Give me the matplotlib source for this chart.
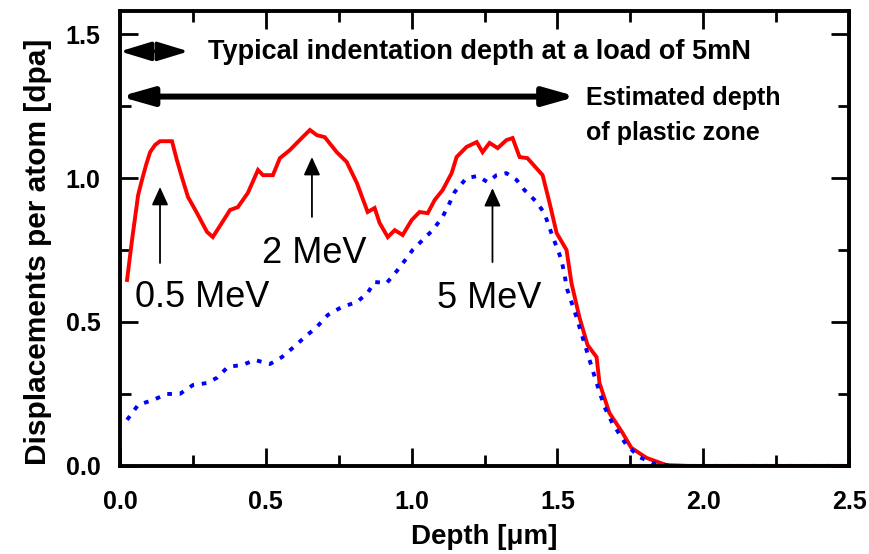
import numpy as np
import matplotlib
matplotlib.use("Agg")
import matplotlib.pyplot as plt
from matplotlib.ticker import MultipleLocator

plt.rcParams['font.family'] = ['Liberation Sans', 'DejaVu Sans']

# Damage profile, summed over all ion energies (solid red)
depth_total = [0.024, 0.041, 0.062, 0.075, 0.089, 0.103, 0.120, 0.137, 0.178, 0.195,
               0.212, 0.233, 0.264, 0.298, 0.318, 0.349, 0.377, 0.404, 0.438, 0.473,
               0.490, 0.524, 0.548, 0.582, 0.623, 0.651, 0.675, 0.702, 0.743, 0.777,
               0.812, 0.849, 0.873, 0.890, 0.918, 0.942, 0.969, 1.000, 1.027, 1.055,
               1.079, 1.106, 1.137, 1.154, 1.188, 1.223, 1.243, 1.267, 1.295, 1.325,
               1.346, 1.370, 1.397, 1.449, 1.473, 1.497, 1.531, 1.548, 1.575, 1.603,
               1.634, 1.644, 1.678, 1.723, 1.753, 1.805, 1.873, 1.950, 2.500]
dpa_total = [0.646, 0.785, 0.941, 0.993, 1.045, 1.090, 1.115, 1.128, 1.128, 1.062,
             1.003, 0.934, 0.878, 0.813, 0.795, 0.844, 0.889, 0.899, 0.948, 1.028,
             1.010, 1.010, 1.069, 1.097, 1.139, 1.167, 1.149, 1.142, 1.090, 1.056,
             0.983, 0.882, 0.896, 0.844, 0.795, 0.819, 0.802, 0.854, 0.882, 0.878,
             0.924, 0.958, 1.017, 1.073, 1.108, 1.125, 1.090, 1.122, 1.104, 1.132,
             1.139, 1.073, 1.069, 1.010, 0.913, 0.809, 0.750, 0.635, 0.517, 0.420,
             0.378, 0.288, 0.184, 0.115, 0.063, 0.028, 0.003, 0.000, 0.000]

# Damage profile for the 5 MeV irradiation alone (dotted blue)
depth_5mev = [0.024, 0.062, 0.113, 0.161, 0.205, 0.250, 0.298, 0.332, 0.370, 0.421,
              0.462, 0.514, 0.555, 0.592, 0.634, 0.675, 0.712, 0.760, 0.812, 0.849,
              0.873, 0.914, 0.949, 0.983, 1.003, 1.038, 1.072, 1.106, 1.130, 1.147,
              1.188, 1.226, 1.260, 1.291, 1.325, 1.360, 1.387, 1.428, 1.455, 1.479,
              1.514, 1.534, 1.565, 1.592, 1.610, 1.634, 1.661, 1.688, 1.736, 1.781,
              1.825, 1.894, 2.500]
dpa_5mev = [0.160, 0.212, 0.229, 0.250, 0.250, 0.281, 0.288, 0.306, 0.344, 0.351,
            0.368, 0.354, 0.378, 0.410, 0.448, 0.483, 0.524, 0.552, 0.569, 0.601,
            0.639, 0.635, 0.677, 0.722, 0.750, 0.785, 0.819, 0.865, 0.913, 0.951,
            1.000, 1.007, 0.986, 1.010, 1.017, 0.993, 0.958, 0.917, 0.878, 0.809,
            0.715, 0.611, 0.517, 0.427, 0.368, 0.288, 0.205, 0.149, 0.073, 0.031,
            0.010, 0.000, 0.000]

xticks = [0.0, 0.5, 1.0, 1.5, 2.0, 2.5]
yticks = [0.0, 0.5, 1.0, 1.5]

fig = plt.figure(figsize=(8.7, 5.54), dpi=100)
ax = fig.add_axes([0.138, 0.159, 0.838, 0.821])

ax.plot(depth_total, dpa_total, color='#ff0000', lw=2.8, solid_joinstyle='miter')
ax.plot(depth_5mev, dpa_5mev, color='#0000ff', lw=2.8,
        linestyle=(0, (1.2, 2.0)), dash_capstyle='butt')

ax.set_xlim(0, 2.5)
ax.set_ylim(0, 1.58)
ax.set_xticks(xticks)
ax.set_yticks(yticks)
ax.set_xticklabels([f"{v:.1f}" for v in xticks])
ax.set_yticklabels([f"{v:.1f}" for v in yticks])
ax.xaxis.set_minor_locator(MultipleLocator(0.25))
ax.yaxis.set_minor_locator(MultipleLocator(0.25))
ax.tick_params(which='both', direction='in', top=True, right=True, width=2.0)
ax.tick_params(which='major', length=13)
ax.tick_params(which='minor', length=8)
ax.tick_params(axis='x', which='major', pad=17, labelsize=18)
ax.tick_params(axis='y', which='major', pad=14, labelsize=18)
for lab in ax.get_xticklabels() + ax.get_yticklabels():
    lab.set_fontweight('bold')
for sp in ax.spines.values():
    sp.set_linewidth(2.8)

ax.set_xlabel('Depth [μm]', fontsize=20, fontweight='bold')
ax.set_ylabel('Displacements per atom [dpa]', fontsize=21.5, fontweight='bold')
ax.xaxis.set_label_coords(0.5, -0.128)
ax.yaxis.set_label_coords(-0.093, 0.47)

# indentation depth and plastic zone markers
ax.annotate('', xy=(0.0, 1.44), xytext=(0.235, 1.44),
            arrowprops=dict(arrowstyle='<|-|>,head_length=19,head_width=5.8',
                            mutation_scale=1, lw=2.5, color='black',
                            shrinkA=0, shrinkB=0), annotation_clip=False)
ax.text(0.30, 1.413, 'Typical indentation depth at a load of 5mN',
        fontsize=19.5, fontweight='bold', ha='left', va='baseline')

ax.annotate('', xy=(0.0, 1.283), xytext=(1.565, 1.283),
            arrowprops=dict(arrowstyle='<|-|>,head_length=19,head_width=5.4',
                            mutation_scale=1, lw=4.3, color='black',
                            shrinkA=0, shrinkB=0), annotation_clip=False)
ax.text(1.599, 1.253, 'Estimated depth', fontsize=18, fontweight='bold',
        ha='left', va='baseline')
ax.text(1.599, 1.132, 'of plastic zone', fontsize=18, fontweight='bold',
        ha='left', va='baseline')

# energy labels with peak arrows
peak_arrows = [(0.137, 0.705, 0.969), (0.658, 0.865, 1.073), (1.277, 0.708, 0.965)]
for x, y0, y1 in peak_arrows:
    ax.annotate('', xy=(x, y1), xytext=(x, y0),
                arrowprops=dict(arrowstyle='-|>,head_length=11,head_width=5',
                                mutation_scale=1, lw=1.3, color='black',
                                shrinkA=0, shrinkB=0))

ax.text(0.051, 0.552, '0.5 MeV', fontsize=26, ha='left', va='baseline')
ax.text(0.486, 0.705, '2 MeV', fontsize=26, ha='left', va='baseline')
ax.text(1.086, 0.549, '5 MeV', fontsize=26, ha='left', va='baseline')

fig.savefig('out.png', dpi=100)
